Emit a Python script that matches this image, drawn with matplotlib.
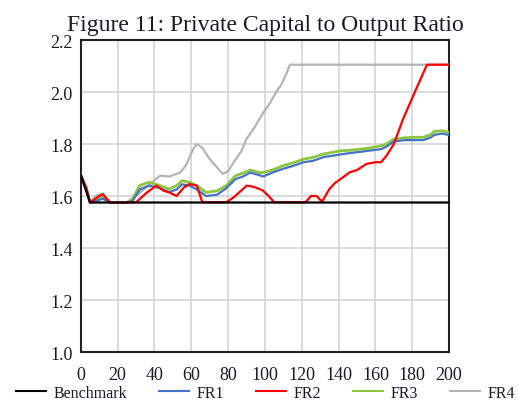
import matplotlib
matplotlib.use("Agg")
import matplotlib.pyplot as plt

# ---------------------------------------------------------------------------
# Data
# ---------------------------------------------------------------------------

bench_x = [0, 5, 200]
bench_y = [1.68, 1.575, 1.575]

fr1_x = [0, 3, 5, 8, 10, 12, 14, 16, 20, 25, 28, 32, 37, 43, 48, 52, 55, 59, 63,
         68, 74, 79, 84, 88, 92, 97, 99, 104, 110, 115, 121, 126, 132, 137, 141,
         146, 152, 157, 163, 166, 170, 176, 182, 186, 190, 192, 196, 200]
fr1_y = [1.68, 1.63, 1.575, 1.58, 1.585, 1.59, 1.58, 1.575, 1.575, 1.575, 1.58,
         1.625, 1.64, 1.63, 1.615, 1.625, 1.645, 1.64, 1.625, 1.60, 1.605, 1.63,
         1.665, 1.675, 1.69, 1.68, 1.675, 1.69, 1.705, 1.715, 1.73, 1.735, 1.75,
         1.755, 1.76, 1.765, 1.77, 1.775, 1.78, 1.79, 1.81, 1.815, 1.815, 1.815,
         1.825, 1.835, 1.84, 1.835]

fr2_x = [0, 3, 5, 8, 10, 12, 14, 16, 20, 25, 30, 33, 36, 41, 45, 48, 52, 56, 59,
         63, 66, 70, 75, 79, 83, 87, 90, 94, 97, 99, 102, 105, 110, 115, 122, 125,
         128, 131, 135, 138, 141, 146, 150, 155, 160, 163, 166, 170, 175, 182,
         188, 195, 200]
fr2_y = [1.68, 1.63, 1.575, 1.59, 1.60, 1.607, 1.59, 1.575, 1.575, 1.575, 1.576,
         1.595, 1.614, 1.64, 1.62, 1.614, 1.60, 1.633, 1.646, 1.64, 1.576, 1.576,
         1.576, 1.576, 1.595, 1.62, 1.64, 1.635, 1.627, 1.62, 1.60, 1.576, 1.576,
         1.576, 1.576, 1.60, 1.60, 1.578, 1.627, 1.65, 1.665, 1.691, 1.70, 1.723,
         1.73, 1.73, 1.755, 1.80, 1.896, 2.01, 2.105, 2.105, 2.105]

fr3_x = [0, 3, 5, 8, 10, 12, 14, 16, 20, 25, 28, 32, 37, 43, 48, 52, 55, 59, 63,
         68, 74, 79, 84, 88, 92, 97, 99, 104, 110, 115, 121, 126, 132, 137, 141,
         146, 152, 157, 163, 166, 170, 176, 182, 186, 190, 192, 196, 200]
fr3_y = [1.68, 1.63, 1.575, 1.585, 1.59, 1.595, 1.585, 1.575, 1.575, 1.575,
         1.588, 1.64, 1.653, 1.64, 1.627, 1.64, 1.659, 1.653, 1.64, 1.614, 1.62,
         1.64, 1.678, 1.688, 1.70, 1.69, 1.69, 1.70, 1.717, 1.727, 1.742, 1.748,
         1.762, 1.768, 1.774, 1.776, 1.78, 1.785, 1.793, 1.80, 1.819, 1.824, 1.826,
         1.826, 1.836, 1.848, 1.851, 1.845]

fr4_x = [0, 3, 5, 8, 10, 12, 14, 16, 20, 25, 30, 35, 40, 43, 48, 54, 57, 61, 63,
         66, 70, 74, 77, 80, 83, 87, 90, 94, 97, 100, 103, 106, 109, 111, 113.6,
         150, 200]
fr4_y = [1.68, 1.63, 1.575, 1.60, 1.605, 1.61, 1.59, 1.575, 1.575, 1.575, 1.60,
         1.63, 1.66, 1.678, 1.675, 1.69, 1.717, 1.78, 1.80, 1.785, 1.742, 1.71,
         1.685, 1.695, 1.73, 1.77, 1.82, 1.86, 1.896, 1.93, 1.96, 1.999, 2.03,
         2.06, 2.105, 2.105, 2.105]

series = [
    ("Benchmark", bench_x, bench_y, "#000000"),
    ("FR1", fr1_x, fr1_y, "#4472C4"),
    ("FR2", fr2_x, fr2_y, "#FF0000"),
    ("FR3", fr3_x, fr3_y, "#8CC63F"),
    ("FR4", fr4_x, fr4_y, "#B4B4B4"),
]

x_ticks = [0, 20, 40, 60, 80, 100, 120, 140, 160, 180, 200]
y_ticks = [1.0, 1.2, 1.4, 1.6, 1.8, 2.0, 2.2]

# ---------------------------------------------------------------------------
# Plot
# ---------------------------------------------------------------------------

plt.rcParams["font.family"] = ["Liberation Serif", "DejaVu Serif"]
_TEXT = "#1a1a2a"

fig = plt.figure(figsize=(5.18, 4.10), dpi=100)
fig.patch.set_facecolor("white")
ax = fig.add_axes([0.156, 0.139, 0.711, 0.761])

# draw order: gray, green, blue, red, black on top
order = [4, 3, 1, 2, 0]
lines = {}
for i in order:
    label, xs, ys, color = series[i]
    lw = 2.0 if label == "FR3" else 1.6
    (ln,) = ax.plot(xs, ys, color=color, linewidth=lw, label=label, zorder=3)
    lines[label] = ln

ax.set_xlim(0, 200)
ax.set_ylim(1.0, 2.2)
ax.set_xticks(x_ticks)
ax.set_yticks(y_ticks)
ax.set_yticklabels([f"{v:.1f}" for v in y_ticks])
ax.tick_params(length=0, labelsize=13, colors=_TEXT, pad=6)
ax.tick_params(axis="x", pad=10)
ax.grid(True, color="#D4D4D4", linewidth=1.2, zorder=0)
ax.set_axisbelow(True)
for spine in ax.spines.values():
    spine.set_color("#222222")
    spine.set_linewidth(1.5)

ax.set_title("Figure 11: Private Capital to Output Ratio", fontsize=17,
             color=_TEXT, pad=7)

handles = [lines[s[0]] for s in series]
leg = fig.legend(handles, [s[0] for s in series], loc="lower center",
                 bbox_to_anchor=(0.512, -0.015), ncol=5, frameon=False,
                 fontsize=11.5, handlelength=1.9, columnspacing=2.0,
                 handletextpad=0.45, labelcolor=_TEXT)
for h in leg.legend_handles:
    h.set_linewidth(1.5)

fig.savefig("out.png", dpi=100, facecolor="white")
